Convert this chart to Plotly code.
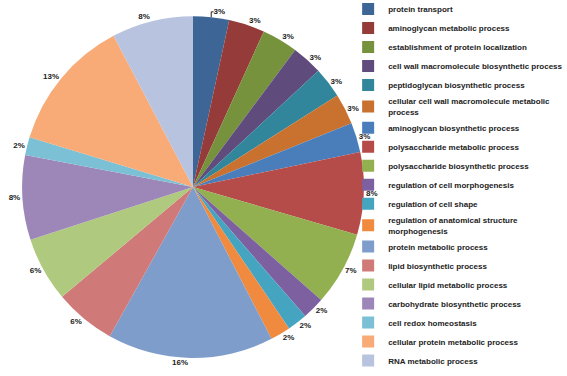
import plotly.graph_objects as go

categories = [
    "protein transport",
    "aminoglycan metabolic process",
    "establishment of protein localization",
    "cell wall macromolecule biosynthetic process",
    "peptidoglycan biosynthetic process",
    "cellular cell wall macromolecule metabolic<br>process",
    "aminoglycan biosynthetic process",
    "polysaccharide metabolic process",
    "polysaccharide biosynthetic process",
    "regulation of cell morphogenesis",
    "regulation of cell shape",
    "regulation of anatomical structure<br>morphogenesis",
    "protein metabolic process",
    "lipid biosynthetic process",
    "cellular lipid metabolic process",
    "carbohydrate biosynthetic process",
    "cell redox homeostasis",
    "cellular protein metabolic process",
    "RNA metabolic process",
]
# slice shares (percent)
values = [3.4, 3.4, 3.4, 2.9, 2.9, 2.9, 2.8, 7.8, 7.0, 2.1, 1.9, 1.9,
          15.7, 5.8, 6.1, 8.0, 1.7, 12.6, 7.7]
# percentage labels as printed on the chart
pct_labels = ["3%", "3%", "3%", "3%", "3%", "3%", "3%", "8%", "7%", "2%", "2%", "2%",
              "16%", "6%", "6%", "8%", "2%", "13%", "8%"]
colors = ["#3D6697", "#953B39", "#76923C", "#5F4B7C", "#31869B", "#C9722F",
          "#4A7EBB", "#B64C4A", "#92B050", "#7D60A0", "#45A5C1", "#F08A3E",
          "#7F9DCB", "#CF7A78", "#AFCA7E", "#9D87B9", "#7CC0D6", "#F8AA77", "#B7C3DF"]

FONT = "Liberation Sans, Arial, sans-serif"

fig = go.Figure(go.Pie(
    labels=categories,
    values=values,
    text=pct_labels,
    textinfo="text",
    textposition="outside",
    sort=False,
    direction="clockwise",
    rotation=0,
    automargin=False,
    marker=dict(colors=colors, line=dict(width=0)),
    textfont=dict(family=FONT, size=8, color="#222222", weight="bold"),
    domain=dict(x=[0.0388, 0.642], y=[0.048, 0.957]),
    showlegend=True,
))

fig.update_layout(
    width=567, height=376,
    margin=dict(l=0, r=0, t=0, b=0, autoexpand=False),
    paper_bgcolor="white",
    plot_bgcolor="white",
    legend=dict(
        x=0.614, y=1.0146, xanchor="left", yanchor="top",
        font=dict(family=FONT, size=8, color="#222222", weight="bold"),
        bgcolor="rgba(0,0,0,0)",
        itemwidth=30,
        maxheight=400,
    ),
)

fig.write_html(
    "out.html",
    config={"displayModeBar": False},
    post_script="document.body.style.margin='0px';document.body.style.overflow='hidden';",
)
